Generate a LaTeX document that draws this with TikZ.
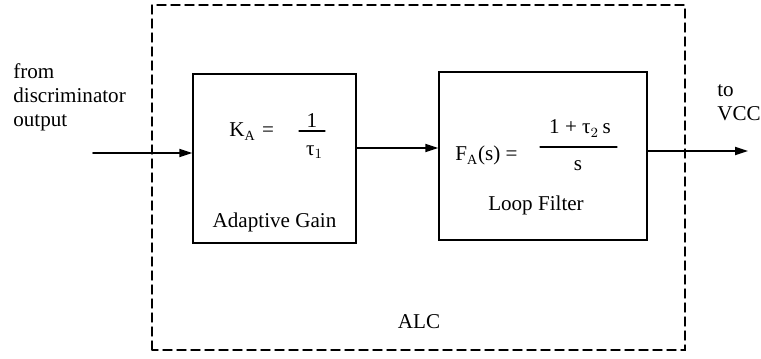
\documentclass[tikz,border=0pt]{standalone}
\usepackage{amsmath}
\usepackage{fontspec}
\setmainfont{Liberation Serif}
\usetikzlibrary{arrows.meta}

\begin{document}
\begin{tikzpicture}[>={Triangle[length=2.6mm,width=1.6mm]},font=\fontsize{12}{13.6}\selectfont,line cap=round,
  blk/.style={draw,thick,inner sep=0pt},
  sig/.style={->,line width=1pt},
  lbl/.style={inner sep=0pt,anchor=base}]
\useasboundingbox (0,0) rectangle (15.22,7.16);
% ALC boundary
\draw[thick,dash pattern=on 1.8mm off 1mm] (3.04,0.16) rectangle (13.70,7.06);
\node[lbl,font=\large] (alc) at (8.38,0.60) {ALC};
% blocks
\node[blk,minimum width=3.26cm,minimum height=3.38cm] (gain) at (5.49,3.99) {};
\node[blk,minimum width=4.16cm,minimum height=3.36cm] (filt) at (10.86,4.04) {};
% adaptive gain
\node[lbl,anchor=base west] (ka) at (4.58,4.42) {K$_{\text{A}}$};
\node[lbl] (keq) at (5.36,4.42) {=};
\coordinate (kbl) at (5.98,4.54);
\coordinate (kbr) at (6.50,4.54);
\draw[semithick] (kbl) -- (kbr);
\node[lbl] (knum) at (6.24,4.60) {1};
\node[lbl] (kden) at (6.29,4.05) {τ$_{1}$};
\node[lbl] (gainlbl) at (5.49,2.62) {Adaptive Gain};
% loop filter
\node[lbl,anchor=base west,font=\large] (fa) at (9.10,3.94) {F$_{\text{A}}$(s) =};
\coordinate (fbl) at (10.80,4.22);
\coordinate (fbr) at (12.34,4.22);
\draw[semithick] (fbl) -- (fbr);
\node[lbl,font=\large] (fnum) at (11.60,4.48) {1 + τ$_{2}$\,s};
\node[lbl,font=\large] (fden) at (11.56,3.74) {s};
\node[lbl] (filtlbl) at (10.72,2.94) {Loop Filter};
% signals
\node[inner sep=0pt,anchor=north west,align=left] (src) at (0.26,5.89) {from\\discriminator\\output};
\node[inner sep=0pt,anchor=north west,align=left] (dst) at (14.34,5.48) {to\\VCC};
\coordinate (inpt) at (1.86,4.10);
\coordinate (vcc) at (14.96,4.14);
\draw[sig] (inpt) -- (inpt -| gain.west);
\draw[sig] ([yshift=2.1mm]gain.east) -- ([yshift=2.1mm]gain.east -| filt.west);
\draw[sig] (vcc -| filt.east) -- (vcc);
\end{tikzpicture}
\end{document}
